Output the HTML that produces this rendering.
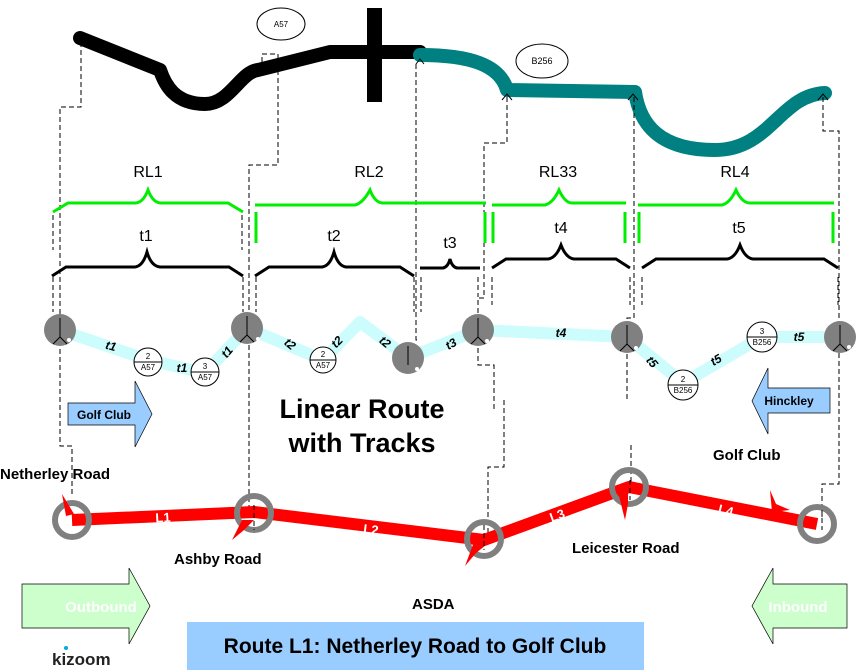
<!DOCTYPE html>
<html><head><meta charset="utf-8"><style>
html,body{margin:0;padding:0;background:#fff;}
svg{display:block;}
text{font-family:"Liberation Sans",sans-serif;}
</style></head><body>
<svg width="857" height="672" viewBox="0 0 857 672" xmlns="http://www.w3.org/2000/svg">
<path d="M80,38 L160,70 C165,85 175,104 205,104 C230,104 240,72 258,70 L330,52 L420,52" fill="none" stroke="#000" stroke-width="14" stroke-linecap="round" stroke-linejoin="round"/>
<rect x="367" y="8" width="15" height="94" fill="#000"/>
<path d="M420,55 C470,55 500,65 507,90 L635,92 C640,125 660,150 715,150 C770,150 780,95 825,93" fill="none" stroke="#008080" stroke-width="14" stroke-linecap="round" stroke-linejoin="round"/>
<ellipse cx="281" cy="24" rx="24" ry="16" fill="#fff" stroke="#000"/>
<text x="281" y="27" font-size="8" text-anchor="middle">A57</text>
<ellipse cx="542" cy="61" rx="26" ry="17" fill="#fff" stroke="#000"/>
<text x="542" y="64" font-size="9" text-anchor="middle">B256</text>
<g fill="none" stroke="#000" stroke-width="1">
<path d="M416,64 l4,-5 l4,5 M502,100 l5,-6 l5,6 M628,100 l5,-6 l5,6 M818,100 l5,-6 l5,6"/>
</g>
<g fill="none" stroke="#000" stroke-width="1" stroke-dasharray="5,3">
<path d="M81,42 V107 H60 V446 H72 V495"/>
<path d="M262,62 V54 H278 V165 H249 V512"/>
<path d="M416,64 V340 H420"/>
<path d="M504,400 V467 H488 V540"/>
<path d="M507,97 V143 H484 V298 H478 V365 H494 V410"/>
<path d="M634,97 V318 H627 V400"/>
<path d="M631,445 V490"/>
<path d="M823,97 V131 H839 V484 H822 V522"/>
<path d="M53,215 V250 M242,215 V250 M53,277 V312 M243,277 V312 M256,277 V312 M414,277 V312 M421,277 V312 M478,277 V297 M492,277 V305 M630,277 V305 M642,277 V305 M838,277 V305"/>
</g>
<g fill="none" stroke="#00ee00" stroke-width="3">
<path d="M53,212 L68,203 H135 Q143,203 148,190 Q153,203 161,203 H228 L243,212"/>
<path d="M255,205 H355 Q363,203 370,190 Q375,203 383,203 H486"/>
<path d="M492,205 H545 Q553,203 559,190 Q565,203 572,203 H626"/>
<path d="M638,205 H722 Q730,203 736,190 Q742,203 750,203 H834"/>
<path d="M256,212 V243 M485,212 V243 M493,212 V243 M625,212 V243 M639,212 V243 M833,212 V243"/>
</g>
<g fill="none" stroke="#000" stroke-width="3">
<path d="M52,276 L66,267 H135 Q143,266 147,252 Q151,266 160,267 H229 L243,276"/>
<path d="M255,276 L269,267 H322 Q330,266 334,252 Q338,266 346,267 H400 L414,276"/>
<path d="M420,268 H443 Q448,267 450,259 Q452,267 457,268 H480"/>
<path d="M492,268 L506,259 H548 Q556,258 561,245 Q566,258 574,259 H616 L630,268"/>
<path d="M642,268 L656,259 H727 Q735,258 740,245 Q745,258 753,259 H824 L838,268"/>
</g>
<g font-size="16" text-anchor="middle">
<text x="148" y="177">RL1</text><text x="369" y="177">RL2</text><text x="558" y="177">RL33</text><text x="735" y="177">RL4</text>
<text x="146" y="241">t1</text><text x="334" y="241">t2</text><text x="450" y="248">t3</text><text x="561" y="233">t4</text><text x="739" y="233">t5</text>
</g>
<path d="M60,330 L148,360 L205,373 L247,328 L323,360 L360,322 L408,358 L478,330 L627,337 L683,383 L762,337 L840,337" fill="none" stroke="#ccfcfc" stroke-width="12" stroke-linejoin="round"/>
<g fill="#808080">
<circle cx="60" cy="330" r="16"/><circle cx="247" cy="328" r="16"/><circle cx="408" cy="358" r="16"/><circle cx="478" cy="330" r="16"/><circle cx="627" cy="337" r="16"/><circle cx="840" cy="337" r="16"/>
</g>
<g fill="none" stroke="#000" stroke-width="1">
<path d="M60,318 V337 L53,344 M60,337 L67,344 M247,316 V335 L240,342 M247,335 L254,342 M408,346 V365 M478,318 V337 L471,344 M478,337 L485,344 M627,325 V344 L620,351 M627,344 L634,351 M840,325 V344 L833,351 M840,344 L847,351"/>
</g>
<g fill="#fff"><circle cx="69" cy="340" r="2"/><circle cx="258" cy="339" r="2"/><circle cx="417" cy="369" r="2"/><circle cx="487" cy="341" r="2"/><circle cx="636" cy="348" r="2"/><circle cx="849" cy="347" r="2"/></g>
<g fill="#fff" stroke="#000" stroke-width="1">
<circle cx="148" cy="362" r="14"/><circle cx="205" cy="372" r="14"/><circle cx="323" cy="360" r="13"/><circle cx="683" cy="385" r="15"/><circle cx="762" cy="337" r="15"/>
</g>
<g stroke="#000" stroke-width="1"><path d="M134,362 H162 M191,372 H219 M310,360 H336 M668,385 H698 M747,337 H777"/></g>
<g font-size="8" text-anchor="middle">
<text x="148" y="359">2</text><text x="148" y="370">A57</text>
<text x="205" y="369">3</text><text x="205" y="380">A57</text>
<text x="323" y="357">2</text><text x="323" y="368">A57</text>
<text x="683" y="382">2</text><text x="683" y="393">B256</text>
<text x="762" y="334">3</text><text x="762" y="345">B256</text>
</g>
<g font-size="12" font-weight="bold" font-style="italic" text-anchor="middle">
<text x="111" y="350" transform="rotate(15 111 346)">t1</text>
<text x="182" y="372">t1</text>
<text x="227" y="356" transform="rotate(-50 227 352)">t1</text>
<text x="290" y="348" transform="rotate(40 290 344)">t2</text>
<text x="337" y="346" transform="rotate(-45 337 342)">t2</text>
<text x="385" y="346" transform="rotate(40 385 342)">t2</text>
<text x="451" y="348" transform="rotate(-30 451 344)">t3</text>
<text x="561" y="337">t4</text>
<text x="652" y="366" transform="rotate(50 652 362)">t5</text>
<text x="716" y="364" transform="rotate(-30 716 360)">t5</text>
<text x="799" y="341">t5</text>
</g>
<path d="M68,403 H135 V381 L152,414 L135,447 V425 H68 Z" fill="#99ccff" stroke="#000" stroke-width="0.7"/>
<text x="104" y="419" font-size="12" font-weight="bold" text-anchor="middle">Golf Club</text>
<path d="M830,388 H768 V368 L752,401 L768,434 V413 H830 Z" fill="#99ccff" stroke="#000" stroke-width="0.7"/>
<text x="789" y="405" font-size="12" font-weight="bold" text-anchor="middle">Hinckley</text>
<g font-size="27" font-weight="bold" text-anchor="middle">
<text x="362" y="418">Linear Route</text><text x="362" y="452">with Tracks</text>
</g>
<path d="M72,520 L254,512 L484,540 L629,487 L817,524" fill="none" stroke="#ff0000" stroke-width="12" stroke-linejoin="round"/>
<g fill="none" stroke="#808080" stroke-width="6">
<circle cx="72" cy="520" r="17"/><circle cx="254" cy="513" r="17"/><circle cx="484" cy="539" r="17"/><circle cx="629" cy="487" r="17"/><circle cx="817" cy="524" r="17"/>
</g>
<g fill="#ff0000">
<path d="M62,494 L74,514 L66,516 Z"/>
<path d="M254,520 L244,530 L232,540 L242,520 Z"/>
<path d="M486,545 L476,553 L465,566 L474,542 Z"/>
<path d="M628,487 L628,504 L625,520 L618,492 Z"/>
<path d="M770,490 L776,504 L790,510 L772,512 Z"/>
</g>
<g stroke="#000" stroke-width="1" stroke-dasharray="5,3" fill="none"><path d="M254,505 V530 M484,525 V550 M630,480 V500 M822,510 V530"/></g>
<g font-size="13" font-weight="bold" fill="#fff" text-anchor="middle">
<text x="163" y="522" transform="rotate(-3 163 517)">L1</text>
<text x="371" y="534" transform="rotate(7 371 529)">L2</text>
<text x="557" y="520" transform="rotate(-20 557 515)">L3</text>
<text x="726" y="515" transform="rotate(14 726 510)">L4</text>
</g>
<g font-size="15" font-weight="bold">
<text x="0" y="479">Netherley Road</text>
<text x="174" y="564">Ashby Road</text>
<text x="412" y="609">ASDA</text>
<text x="572" y="553">Leicester Road</text>
<text x="713" y="460">Golf Club</text>
</g>
<path d="M22,584 H129 V568 L150,606 L129,644 V628 H22 Z" fill="#ccffcc" stroke="#000" stroke-width="0.7"/>
<text x="101" y="612" font-size="15" font-weight="bold" fill="#fff" text-anchor="middle">Outbound</text>
<path d="M847,584 H773 V568 L752,606 L773,644 V628 H847 Z" fill="#ccffcc" stroke="#000" stroke-width="0.7"/>
<text x="798" y="612" font-size="15" font-weight="bold" fill="#fff" text-anchor="middle">Inbound</text>
<rect x="187" y="622" width="457" height="48" fill="#99ccff"/>
<text x="415" y="653" font-size="21" font-weight="bold" text-anchor="middle">Route L1: Netherley Road to Golf Club</text>
<text x="52" y="665" font-size="17" font-weight="bold" fill="#222">kizoom</text>
<circle cx="66" cy="648" r="2" fill="#00aadd"/>
</svg>
</body></html>
